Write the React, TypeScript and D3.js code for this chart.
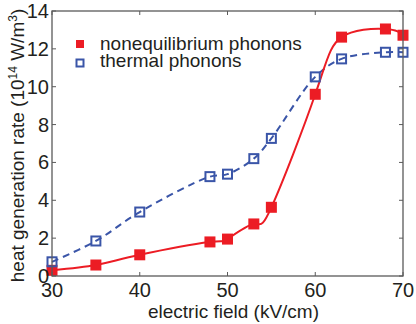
import React from "react";
import * as d3 from "d3";

const width = 416;
const height = 324;
const margin = { top: 11, right: 13, bottom: 48, left: 52 };

const fields = [30, 35, 40, 48, 50, 53, 55, 60, 63, 68, 70];
const nonequilibrium = [0.3, 0.58, 1.12, 1.8, 1.95, 2.75, 3.63, 9.6, 12.62, 13.05, 12.72];
const thermal = [0.75, 1.85, 3.38, 5.25, 5.38, 6.2, 7.27, 10.52, 11.47, 11.82, 11.82];
const xTicks = [30, 40, 50, 60, 70];
const yTicks = [0, 2, 4, 6, 8, 10, 12, 14];

const RED = "#ec1c24";
const BLUE = "#3a55a8";
const INK = "#231f20";
const FRAME = "#5a5a5a";
const FONT = "'Liberation Sans', Arial, sans-serif";

export default function App() {
  const x = d3
    .scaleLinear()
    .domain([30, 70])
    .range([margin.left, width - margin.right]);
  const y = d3
    .scaleLinear()
    .domain([0, 14])
    .range([height - margin.bottom, margin.top]);

  const redPts = fields.map((f, i) => [x(f), y(nonequilibrium[i])] as [number, number]);
  const bluePts = fields.map((f, i) => [x(f), y(thermal[i])] as [number, number]);

  const redLine = d3.line().curve(d3.curveNatural)(redPts) || "";
  const blueLine = d3.line().curve(d3.curveCatmullRom.alpha(0.5))(bluePts) || "";

  const x0 = margin.left;
  const x1 = width - margin.right;
  const y0 = height - margin.bottom;
  const y1 = margin.top;
  const tl = 4;
  const m = 11; // marker size

  return (
    <svg width={width} height={height} style={{ position: "absolute", left: 0, top: 0 }}>
      <rect width={width} height={height} fill="#fff" />
      {/* data */}
      <path d={blueLine} fill="none" stroke={BLUE} strokeWidth={2} strokeDasharray="7,5" />
      <path d={redLine} fill="none" stroke={RED} strokeWidth={2} />
      {redPts.map((p, i) => (
        <rect key={"r" + i} x={p[0] - m / 2} y={p[1] - m / 2} width={m} height={m} fill={RED} />
      ))}
      {bluePts.map((p, i) => (
        <rect key={"b" + i} x={p[0] - 4.5} y={p[1] - 4.5} width={9} height={9} fill="#fff" fillOpacity={0} stroke={BLUE} strokeWidth={2} />
      ))}

      {/* frame + ticks */}
      <rect x={x0} y={y1} width={x1 - x0} height={y0 - y1} fill="none" stroke={FRAME} strokeWidth={1.3} />
      {xTicks.map(t => (
        <g key={"xt" + t}>
          <line x1={x(t)} x2={x(t)} y1={y0} y2={y0 - tl} stroke={FRAME} strokeWidth={1} />
          <line x1={x(t)} x2={x(t)} y1={y1} y2={y1 + tl} stroke={FRAME} strokeWidth={1} />
          <text x={x(t)} y={y0 + 21} textAnchor="middle" fontSize={20} fontFamily={FONT} fill={INK}>
            {t}
          </text>
        </g>
      ))}
      {yTicks.map(t => (
        <g key={"yt" + t}>
          <line x1={x0} x2={x0 + tl} y1={y(t)} y2={y(t)} stroke={FRAME} strokeWidth={1} />
          <line x1={x1} x2={x1 - tl} y1={y(t)} y2={y(t)} stroke={FRAME} strokeWidth={1} />
          <text x={x0 - 3} y={y(t) + 7} textAnchor="end" fontSize={20} fontFamily={FONT} fill={INK}>
            {t}
          </text>
        </g>
      ))}

      {/* axis titles */}
      <text x={(x0 + x1) / 2 + 6} y={318} textAnchor="middle" fontSize={19} fontFamily={FONT} fill={INK}>
        electric field (kV/cm)
      </text>
      <text
        transform={`translate(24, ${(y0 + y1) / 2 + 2}) rotate(-90)`}
        textAnchor="middle"
        fontSize={19}
        fontFamily={FONT}
        fill={INK}
      >
        heat generation rate (10
        <tspan dy={-7} fontSize={12}>14</tspan>
        <tspan dy={7}> W/m</tspan>
        <tspan dy={-7} fontSize={12}>3</tspan>
        <tspan dy={7}>)</tspan>
      </text>

      {/* legend */}
      <rect x={76} y={40} width={8} height={8} fill={RED} />
      <text x={100} y={50} fontSize={19} fontFamily={FONT} fill={INK}>
        nonequilibrium phonons
      </text>
      <rect x={76.5} y={59.5} width={7} height={7} fill="none" stroke={BLUE} strokeWidth={2} />
      <text x={100} y={67} fontSize={19} fontFamily={FONT} fill={INK}>
        thermal phonons
      </text>
    </svg>
  );
}
